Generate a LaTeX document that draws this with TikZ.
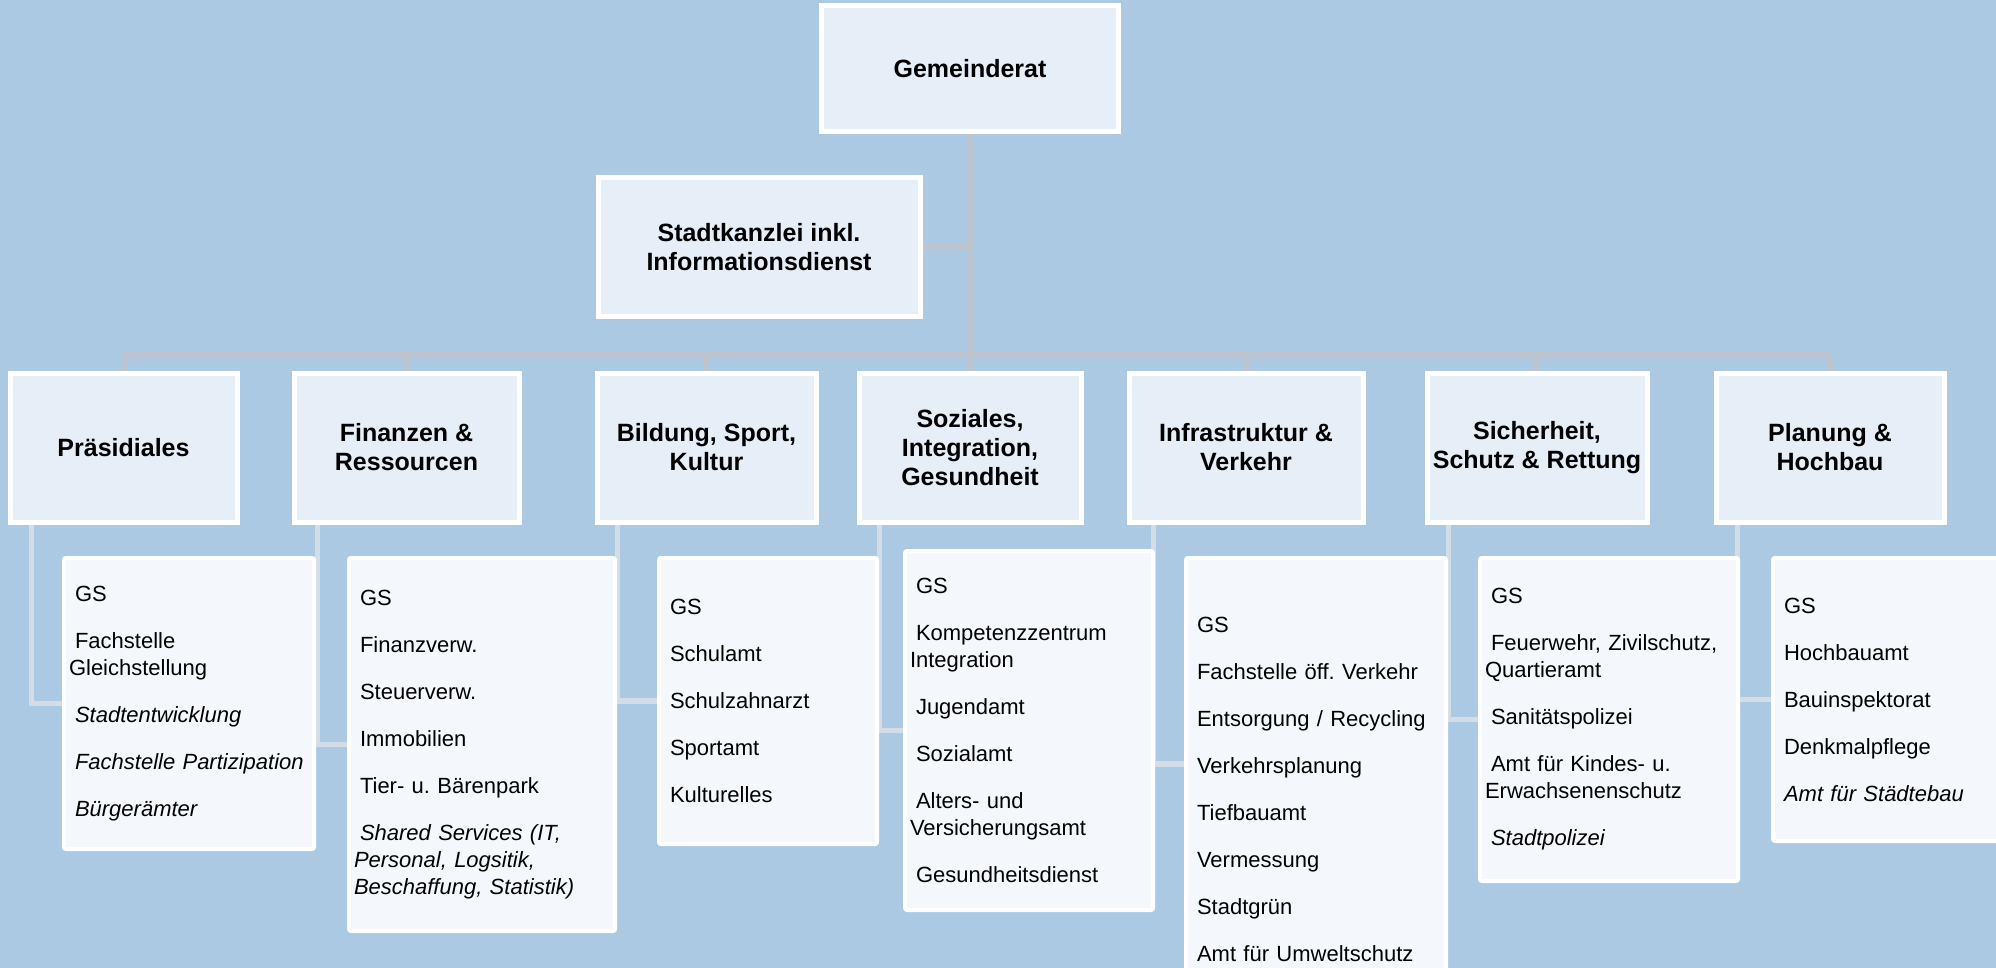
\documentclass[tikz,border=0pt]{standalone}
\usepackage{fontspec}
\setmainfont{Liberation Sans}
\usetikzlibrary{backgrounds}
\definecolor{bgblue}{RGB}{172,201,228}
\definecolor{headfill}{RGB}{230,238,248}
\definecolor{subfill}{RGB}{244,248,252}
\definecolor{trunkgrey}{RGB}{190,196,205}
\definecolor{subgrey}{RGB}{212,221,230}
\newcommand{\lsp}{\hspace*{3pt}}
\frenchspacing
\begin{document}
\begin{tikzpicture}[x=0.5pt,y=-0.5pt]
	\tikzset{headbox/.style = {draw=white, line width=2.5pt, fill=headfill, align=center, inner sep=0pt, font=\bfseries\fontsize{12.5}{14.5}\selectfont}}
	\tikzset{subbox/.style = {draw=white, line width=2pt, fill=subfill, rounded corners=1pt, align=left, inner xsep=2.5pt, inner ysep=0pt, font=\fontsize{11}{13.5}\selectfont}}
	\tikzset{trunkline/.style = {draw=trunkgrey, line width=3pt}}
	\tikzset{subline/.style = {draw=subgrey, line width=2.8pt}}
	\useasboundingbox (0,0) rectangle (1996,968);
	% council and chancellery
	\node[headbox, minimum width=148.5pt, minimum height=63pt] (gem) at (970,69) {Gemeinderat};
	\node[headbox, minimum width=161pt, minimum height=69pt] (kanzlei) at (759,247) {Stadtkanzlei inkl.\\Informationsdienst};
	% directorates
	\node[headbox, minimum width=113.5pt, minimum height=74.5pt] (praes) at (123.5,447.5) {Präsidiales};
	\node[headbox, minimum width=112.5pt, minimum height=74.5pt] (fin) at (406.5,447.5) {Finanzen \&\\Ressourcen};
	\node[headbox, minimum width=109.5pt, minimum height=74.5pt] (bild) at (706.5,447.5) {Bildung, Sport,\\Kultur};
	\node[headbox, minimum width=111pt, minimum height=74.5pt] (soz) at (970,447.5) {Soziales,\\Integration,\\Gesundheit};
	\node[headbox, minimum width=117pt, minimum height=74.5pt] (infra) at (1246,447.5) {Infrastruktur \&\\Verkehr};
	\node[headbox, minimum width=110pt, minimum height=74.5pt] (sich) at (1537,447.5) {Sicherheit,\\Schutz \& Rettung};
	\node[headbox, minimum width=114pt, minimum height=74.5pt] (plan) at (1830,447.5) {Planung \&\\Hochbau};
	% offices
	\node[subbox, text width=120pt, minimum height=145.5pt] (praesSub) at (189,703.5) {\lsp GS\\[10pt]\lsp Fachstelle\\Gleichstellung\\[10pt]\lsp\textit{Stadtentwicklung}\\[10pt]\lsp\textit{Fachstelle Partizipation}\\[10pt]\lsp\textit{Bürgerämter}};
	\node[subbox, text width=128pt, minimum height=186.5pt] (finSub) at (482,744.5) {\lsp GS\\[10pt]\lsp Finanzverw.\\[10pt]\lsp Steuerverw.\\[10pt]\lsp Immobilien\\[10pt]\lsp Tier- u. Bärenpark\\[10pt]{\itshape\lsp Shared Services (IT,\\Personal, Logsitik,\\Beschaffung, Statistik)}};
	\node[subbox, text width=104pt, minimum height=143pt] (bildSub) at (768,701) {\lsp GS\\[10pt]\lsp Schulamt\\[10pt]\lsp Schulzahnarzt\\[10pt]\lsp Sportamt\\[10pt]\lsp Kulturelles};
	\node[subbox, text width=119pt, minimum height=179.5pt] (sozSub) at (1029,730.5) {\lsp GS\\[10pt]\lsp Kompetenzzentrum\\Integration\\[10pt]\lsp Jugendamt\\[10pt]\lsp Sozialamt\\[10pt]\lsp Alters- und\\Versicherungsamt\\[10pt]\lsp Gesundheitsdienst};
	\node[subbox, text width=125pt, minimum height=231pt] (infraSub) at (1316,789) {\lsp GS\\[10pt]\lsp Fachstelle öff. Verkehr\\[10pt]\lsp Entsorgung / Recycling\\[10pt]\lsp Verkehrsplanung\\[10pt]\lsp Tiefbauamt\\[10pt]\lsp Vermessung\\[10pt]\lsp Stadtgrün\\[10pt]\lsp Amt für Umweltschutz};
	\node[subbox, text width=124pt, minimum height=161.5pt] (sichSub) at (1609,719.5) {\lsp GS\\[10pt]\lsp Feuerwehr, Zivilschutz,\\Quartieramt\\[10pt]\lsp Sanitätspolizei\\[10pt]\lsp Amt für Kindes- u.\\Erwachsenenschutz\\[10pt]\lsp\textit{Stadtpolizei}};
	\node[subbox, text width=120pt, minimum height=141.5pt] (planSub) at (1898,699.5) {\lsp GS\\[10pt]\lsp Hochbauamt\\[10pt]\lsp Bauinspektorat\\[10pt]\lsp Denkmalpflege\\[10pt]\lsp\textit{Amt für Städtebau}};
	\begin{pgfonlayer}{background}
		\fill[bgblue] (0,0) rectangle (1996,968);
		\coordinate (bus) at (970,355);
		\draw[trunkline] (gem.south) -- (soz.north);
		\draw[trunkline] (kanzlei.east) -- (kanzlei.east -| gem.south);
		\draw[trunkline] (bus -| praes.north) -- (bus -| plan.north);
		\foreach \dep in {praes,fin,bild,soz,infra,sich,plan}
			\draw[trunkline] (bus -| \dep.north) -- (\dep.north);
		\foreach \dep/\off in {praes/24,fin/26,bild/23,soz/23,sich/24,plan/24}
			\draw[subline] (\dep.south west) ++(\off,0) |- (\dep Sub.west);
		\draw[subline] (infra.south west) ++(27,0) |- ([yshift=12.5pt]infraSub.west);
	\end{pgfonlayer}
\end{tikzpicture}
\end{document}
